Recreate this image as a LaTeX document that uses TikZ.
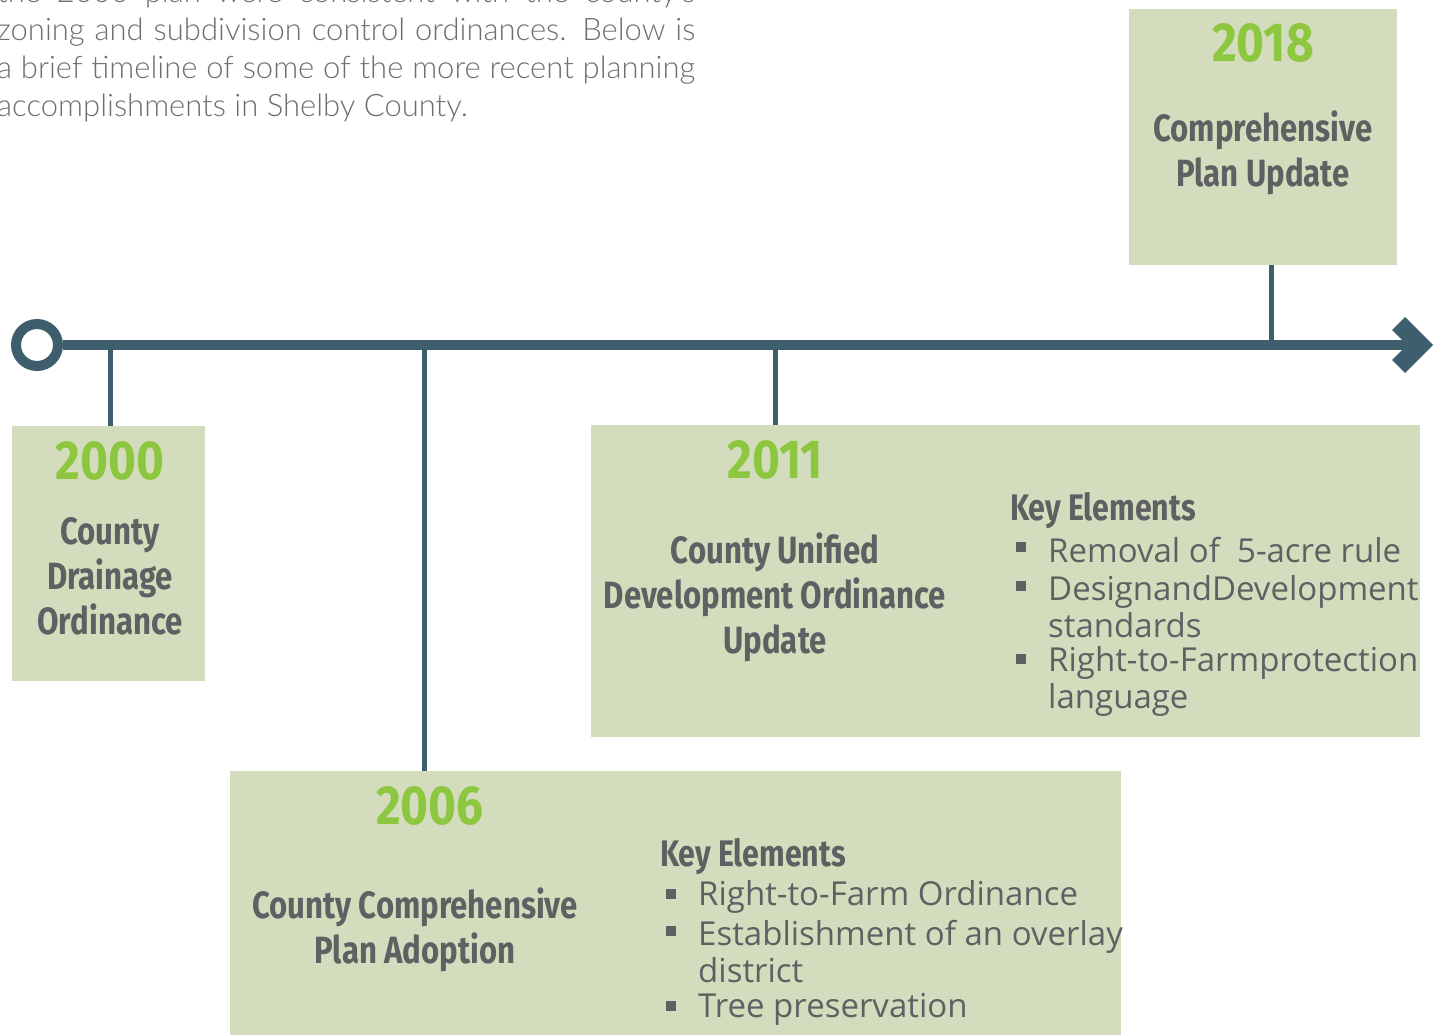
\documentclass[tikz,border=0pt]{standalone}
\usepackage{fontspec}
\setmainfont{Lato Light}
\newfontfamily\headfont[FakeStretch=0.82]{Fira Sans}
\newfontfamily\yearfont[FakeStretch=0.87]{Fira Sans}
\newfontfamily\itemfont{Open Sans}
\definecolor{tl}{HTML}{3E5E6D}
\definecolor{boxgreen}{HTML}{D3DDBE}
\definecolor{yeargreen}{HTML}{8DC63F}
\definecolor{headgrey}{HTML}{5F6062}
\definecolor{bodygrey}{HTML}{6D6E71}
\begin{document}
\begin{tikzpicture}[x=1pt,y=-1pt,
  box/.style={fill=boxgreen,draw=none,inner sep=0,anchor=north west},
  stem/.style={draw=tl,line width=5pt},
  axis/.style={draw=tl,line width=10pt},
  year/.style={text=yeargreen,font=\yearfont\bfseries\fontsize{55}{60}\selectfont,inner sep=0},
  head/.style={text=headgrey,font=\headfont\bfseries\fontsize{38}{45}\selectfont,align=center,inner sep=0},
  keyhead/.style={text=headgrey,font=\headfont\bfseries\fontsize{37}{44}\selectfont,inner sep=0,anchor=west},
  item/.style={text=headgrey,font=\itemfont\fontsize{33}{37}\selectfont,inner sep=0,anchor=west,align=left},
  bullet/.style={fill=headgrey,draw=none,minimum size=10pt,inner sep=0},
  body/.style={text=bodygrey,font=\fontsize{31}{38}\selectfont,inner sep=0,anchor=base west}
]
\useasboundingbox (0,0) rectangle (1439,1035);
\clip (0,0) rectangle (1439,1035);

% intro paragraph
\node[body] (p1) at (-3,3) {\makebox[698pt][s]{the 2000 plan were consistent with the county's}};
\node[body] (p2) at (-3,41) {\makebox[698pt][s]{zoning and subdivision control ordinances. Below is}};
\node[body] (p3) at (-3,79) {\makebox[698pt][s]{a brief timeline of some of the more recent planning}};
\node[body] (p4) at (-3,117) {accomplishments in Shelby County.};

% boxes
\node[box,minimum width=193pt,minimum height=255pt] (b2000) at (12,426) {};
\node[box,minimum width=268pt,minimum height=256pt] (b2018) at (1129,9) {};
\node[box,minimum width=829pt,minimum height=312pt] (b2011) at (591,425) {};
\node[box,minimum width=891pt,minimum height=270pt] (b2006) at (230,771) {};

% timeline
\coordinate (t2000) at (110,345);
\coordinate (t2006) at (424,345);
\coordinate (t2011) at (775,345);
\coordinate (t2018) at (1271,345);
\coordinate (arrowend) at (1420,345);
\node[circle,draw=tl,line width=10pt,fill=white,minimum size=42pt,inner sep=0] (origin) at (37,345) {};
\draw[stem] (t2000) -- (t2000 |- b2000.north);
\draw[stem] (t2006) -- (t2006 |- b2006.north);
\draw[stem] (t2011) -- (t2011 |- b2011.north);
\draw[stem] (t2018) -- (t2018 |- b2018.south);
\draw[axis] (origin.east) -- (arrowend);
\fill[tl] (arrowend) ++(-28,-15) -- ++(13,-13) -- ++(28,28) -- ++(-28,28) -- ++(-13,-13) -- ++(15,-15) -- cycle;

% 2000
\node[year] (y2000) at (110,461) {2000};
\node[head] (h2000) at (110,576) {County\\Drainage\\Ordinance};

% 2018
\node[year] (y2018) at (1263,43) {2018};
\node[head] (h2018) at (1263,153) {Comprehensive\\Plan Update};

% 2011
\node[year] (y2011) at (775,460) {2011};
\node[head] (h2011) at (775,597) {County Unified\\Development Ordinance\\Update};
\node[keyhead] (k2011) at (1010,511) {Key Elements};
\node[bullet] (b11a) at (1021,547) {};
\node[item] (i11a) at (1048,550) {Removal of~~5-acre rule};
\node[bullet] (b11b) at (1021,586) {};
\node[item] (i11b) at (1048,607) {DesignandDevelopment\\standards};
\node[bullet] (b11c) at (1021,659) {};
\node[item] (i11c) at (1048,681) {Right-to-Farmprotection\\language};

% 2006
\node[year] (y2006) at (430,806) {2006};
\node[head] (h2006) at (415,930) {County Comprehensive\\Plan Adoption};
\node[keyhead] (k2006) at (660,857) {Key Elements};
\node[bullet] (b06a) at (671,894) {};
\node[item] (i06a) at (698,897) {Right-to-Farm Ordinance};
\node[bullet] (b06b) at (671,931) {};
\node[item] (i06b) at (698,952) {Establishment of an overlay\\district};
\node[bullet] (b06c) at (671,1006) {};
\node[item] (i06c) at (698,1009) {Tree preservation};
\end{tikzpicture}
\end{document}
